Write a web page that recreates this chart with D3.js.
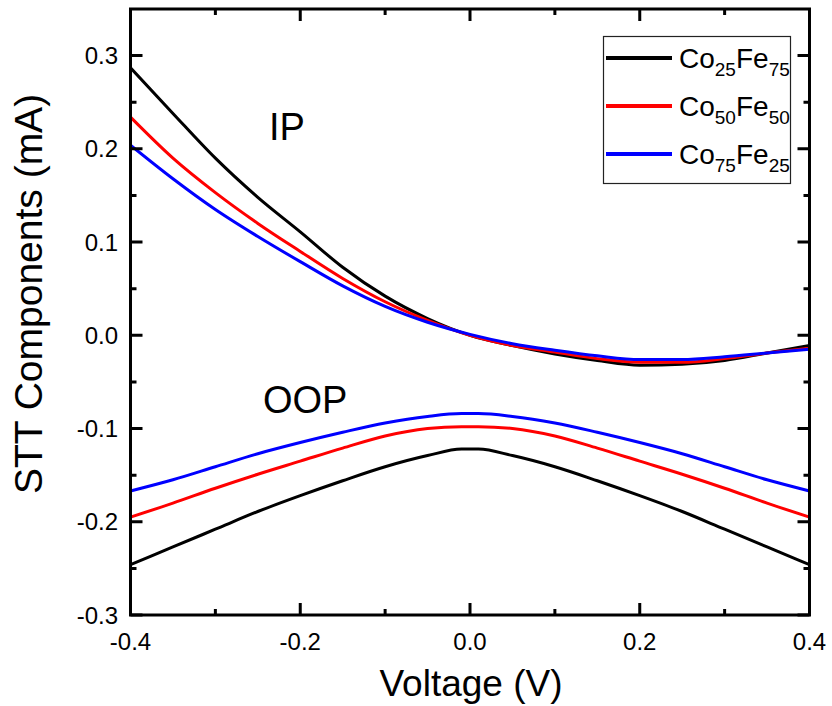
<!DOCTYPE html>
<html>
<head>
<meta charset="utf-8">
<script src="https://cdn.jsdelivr.net/npm/d3@7"></script>
<style>
  html, body { margin: 0; padding: 0; background: #fff; }
  svg { display: block; }
  text { font-family: "Liberation Sans", Arial, sans-serif; fill: #000; }
</style>
</head>
<body>
<svg id="chart" width="832" height="706"></svg>
<script>
// ---------- data ----------
const voltageIP = [-0.4, -0.35, -0.3, -0.25, -0.2, -0.15, -0.1, -0.05, 0, 0.05, 0.1, 0.15, 0.2, 0.25, 0.3, 0.35, 0.4];
const ipCo25Fe75 = [0.287, 0.238, 0.190, 0.148, 0.111, 0.073, 0.042, 0.018, 0.000, -0.011, -0.020, -0.027, -0.032, -0.031, -0.027, -0.019, -0.011];
const ipCo50Fe50 = [0.234, 0.190, 0.153, 0.120, 0.090, 0.061, 0.036, 0.016, 0.000, -0.011, -0.018, -0.025, -0.029, -0.029, -0.025, -0.019, -0.014];
const ipCo75Fe25 = [0.204, 0.168, 0.135, 0.106, 0.079, 0.053, 0.031, 0.014, 0.001, -0.009, -0.016, -0.022, -0.026, -0.026, -0.023, -0.019, -0.015];

const voltageOOP = [-0.4, -0.35, -0.3, -0.25, -0.2, -0.15, -0.1, -0.05, -0.01, 0.01, 0.05, 0.1, 0.15, 0.2, 0.25, 0.3, 0.35, 0.4];
const oopCo25Fe75 = [-0.246, -0.227, -0.208, -0.189, -0.172, -0.156, -0.141, -0.129, -0.122, -0.122, -0.129, -0.141, -0.156, -0.172, -0.189, -0.208, -0.227, -0.246];
const oopCo50Fe50 = [-0.195, -0.180, -0.164, -0.149, -0.135, -0.121, -0.108, -0.100, -0.098, -0.098, -0.100, -0.108, -0.121, -0.135, -0.149, -0.164, -0.180, -0.195];
const oopCo75Fe25 = [-0.167, -0.155, -0.141, -0.127, -0.115, -0.104, -0.094, -0.087, -0.084, -0.084, -0.087, -0.094, -0.104, -0.115, -0.127, -0.141, -0.155, -0.167];

const seriesLabels = [["Co", "25", "Fe", "75"], ["Co", "50", "Fe", "50"], ["Co", "75", "Fe", "25"]];
const seriesColors = ["#000000", "#ff0000", "#0000ff"];

const xMajorTicks = [-0.4, -0.2, 0.0, 0.2, 0.4];
const xMinorTicks = [-0.3, -0.1, 0.1, 0.3];
const yMajorTicks = [-0.3, -0.2, -0.1, 0.0, 0.1, 0.2, 0.3];
const yMinorTicks = [-0.25, -0.15, -0.05, 0.05, 0.15, 0.25];

const xTitle = "Voltage (V)";
const yTitle = "STT Components (mA)";
const ipLabel = "IP";
const oopLabel = "OOP";

// ---------- layout ----------
const svg = d3.select("#chart");
const pLeft = 130.5, pRight = 809.5, pTop = 9, pBottom = 615;

const x = d3.scaleLinear().domain([-0.4, 0.4]).range([pLeft, pRight]);
const y = d3.scaleLinear().domain([-0.3, 0.35]).range([pBottom, pTop]);
const fmt = d => d3.format(".1f")(d).replace("\u2212", "-");

svg.append("defs").append("clipPath").attr("id", "plotclip")
  .append("rect").attr("x", pLeft).attr("y", pTop).attr("width", pRight - pLeft).attr("height", pBottom - pTop);

// ---------- curves ----------
const ipSeries = [ipCo25Fe75, ipCo50Fe50, ipCo75Fe25];
const oopSeries = [oopCo25Fe75, oopCo50Fe50, oopCo75Fe25];

const lineIP = d3.line().x((d, i) => x(voltageIP[i])).y(d => y(d)).curve(d3.curveMonotoneX);
const lineOOP = d3.line().x((d, i) => x(voltageOOP[i])).y(d => y(d)).curve(d3.curveMonotoneX);

const plot = svg.append("g").attr("clip-path", "url(#plotclip)");
[0, 1, 2].forEach(k => {
  plot.append("path").datum(oopSeries[k]).attr("d", lineOOP)
    .attr("fill", "none").attr("stroke", seriesColors[k]).attr("stroke-width", 3).attr("stroke-linejoin", "round");
});
[0, 1, 2].forEach(k => {
  plot.append("path").datum(ipSeries[k]).attr("d", lineIP)
    .attr("fill", "none").attr("stroke", seriesColors[k]).attr("stroke-width", 3).attr("stroke-linejoin", "round");
});

// ---------- ticks (inward on all four sides) ----------
const majorLen = 12, minorLen = 6;
const tp = d3.path();
function addXTicks(vals, len) {
  vals.forEach(v => {
    const px = x(v);
    tp.moveTo(px, pBottom); tp.lineTo(px, pBottom - len);
    tp.moveTo(px, pTop); tp.lineTo(px, pTop + len);
  });
}
function addYTicks(vals, len) {
  vals.forEach(v => {
    const py = y(v);
    tp.moveTo(pLeft, py); tp.lineTo(pLeft + len, py);
    tp.moveTo(pRight, py); tp.lineTo(pRight - len, py);
  });
}
addXTicks(xMajorTicks, majorLen); addXTicks(xMinorTicks, minorLen);
addYTicks(yMajorTicks, majorLen); addYTicks(yMinorTicks, minorLen);
svg.append("path").attr("d", tp.toString()).attr("fill", "none")
  .attr("stroke", "#000000").attr("stroke-width", 3);

// tick labels
svg.append("g").selectAll("text").data(xMajorTicks).join("text")
  .attr("x", d => x(d)).attr("y", 650).attr("text-anchor", "middle").attr("font-size", 24).text(fmt);
svg.append("g").selectAll("text").data(yMajorTicks).join("text")
  .attr("x", 118).attr("y", d => y(d)).attr("dy", "0.36em").attr("text-anchor", "end").attr("font-size", 24).text(fmt);

// frame
svg.append("rect").attr("x", pLeft).attr("y", pTop).attr("width", pRight - pLeft).attr("height", pBottom - pTop)
  .attr("fill", "none").attr("stroke", "#000").attr("stroke-width", 3);

// ---------- titles ----------
svg.append("text").attr("x", 471).attr("y", 696).attr("text-anchor", "middle")
  .attr("font-size", 37).text(xTitle);
svg.append("text").attr("transform", "translate(42,294) rotate(-90)").attr("text-anchor", "middle")
  .attr("font-size", 39).text(yTitle);

svg.append("text").attr("x", 269).attr("y", 140).attr("font-size", 38).text(ipLabel);
svg.append("text").attr("x", 263).attr("y", 413).attr("font-size", 38).text(oopLabel);

// ---------- legend ----------
const lg = svg.append("g");
lg.append("rect").attr("x", 603.5).attr("y", 36.5).attr("width", 187).attr("height", 147)
  .attr("fill", "#fff").attr("stroke", "#222").attr("stroke-width", 1.2);
const legendY = d3.scalePoint().domain([0, 1, 2]).range([58, 154]);
seriesLabels.forEach((parts, k) => {
  const cy = legendY(k);
  lg.append("line").attr("x1", 606).attr("x2", 672).attr("y1", cy).attr("y2", cy)
    .attr("stroke", seriesColors[k]).attr("stroke-width", 4);
  const t = lg.append("text").attr("x", 679).attr("y", cy + 10).attr("font-size", 28);
  parts.forEach((p, j) => {
    const sub = j % 2 === 1;
    t.append("tspan").attr("font-size", sub ? 19 : 28).attr("dy", sub ? 8 : (j === 0 ? 0 : -8)).text(p);
  });
});
</script>
</body>
</html>
